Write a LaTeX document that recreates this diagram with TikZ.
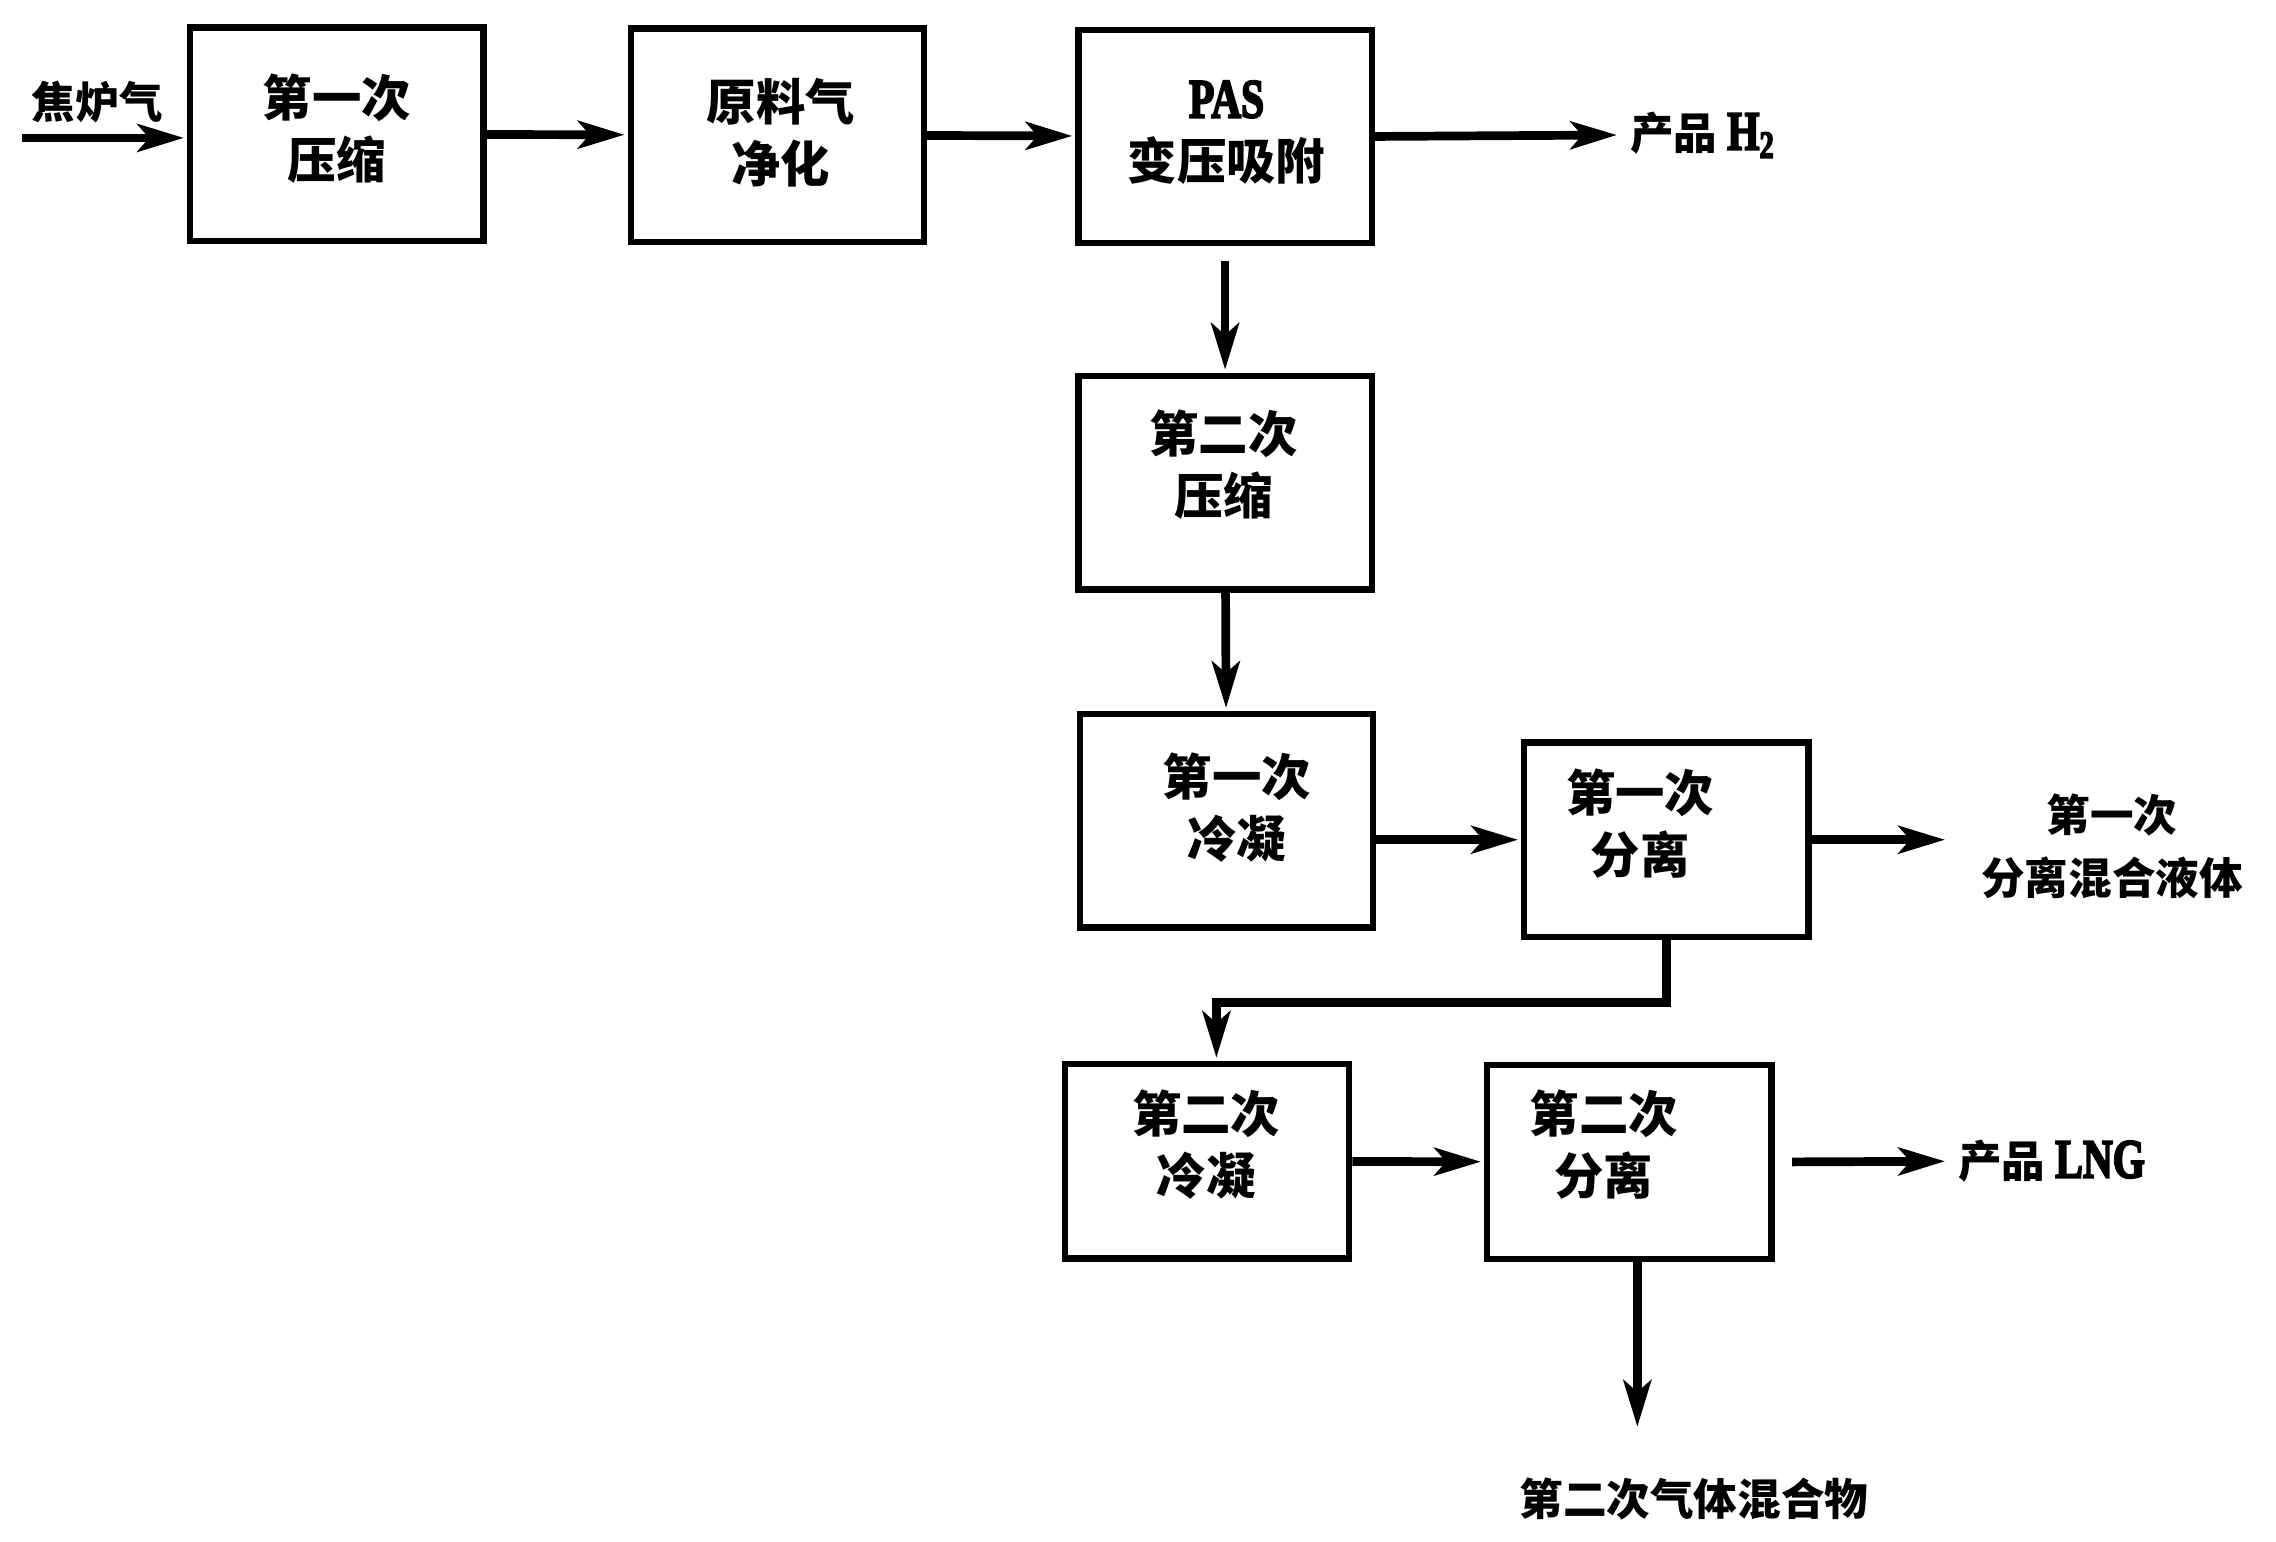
\documentclass[tikz,border=0pt]{standalone}
\usepackage{fontspec}
\setmainfont{Liberation Serif}
\newfontfamily\cjk{Noto Sans CJK SC}
\newfontfamily\latfont{Liberation Serif}[FakeBold=4]
\usetikzlibrary{arrows.meta}

\newcommand{\lat}[1]{{\latfont\bfseries\fontsize{19}{19}\selectfont\scalebox{0.75}[1]{#1}}}

\begin{document}
\begin{tikzpicture}
  [x=0.5pt,y=-0.5pt,
   every node/.style={font={\cjk\bfseries\fontsize{17}{21.5}\selectfont},align=center},
   flow/.style={-{Stealth[length=16pt,width=9.5pt,inset=4pt]},line width=3pt,shorten >=1pt}]

  \tikzstyle{unit} = [draw, line width=2.2pt, minimum width=101pt, minimum height=73.5pt]
  \tikzstyle{small} = [draw, line width=2.2pt, minimum width=98pt, minimum height=67pt]
  \tikzstyle{tag} = [font={\cjk\bfseries\fontsize{15}{21.5}\selectfont}]

  \useasboundingbox (0,0) rectangle (1568,1062);

  % boxes
  \node[unit]  (comp1) at (232,92.5)  {};
  \node[unit]  (purif) at (535.5,93)  {};
  \node[unit]  (pas)   at (844,94)    {};
  \node[unit]  (comp2) at (844,332.5) {};
  \node[unit]  (cond1) at (845,565.5) {};
  \node[small] (sep1)  at (1148,578.5) {};
  \node[small] (cond2) at (831.5,800)  {};
  \node[small] (sep2)  at (1122.5,800.5) {};

  % box texts
  \node at (232,88.5)   {第一次\\压缩};
  \node at (538,91.5)   {原料气\\净化};
  \node at (845,91.5)   {\lat{PAS}\\变压吸附};
  \node at (843,320)    {第二次\\压缩};
  \node at (852,556.5)  {第一次\\冷凝};
  \node at (1130,567.5) {第一次\\分离};
  \node at (831,788.5)  {第二次\\冷凝};
  \node at (1105,788.5) {第二次\\分离};

  % streams in and out
  \node[tag] (coke) at (67,70) {焦炉气};
  \coordinate (feed) at (15,95);
  \node[tag,anchor=west] (h2) at (1116,93) {产品 \lat{H\textsubscript{2}}};
  \coordinate (liqend) at (1342,578.5);
  \node[tag] (liq) at (1455,583) {第一次\\分离混合液体};
  \node[tag,anchor=west] (lng) at (1342,800) {产品 \lat{LNG}};
  \coordinate (gasend) at (1128,985);
  \node[tag] (gas) at (1167,1033) {第二次气体混合物};

  \path[flow]
        (feed)                 edge (feed -| comp1.west)
        (comp1)                edge (purif)
        (purif)                edge (pas)
        (pas.east)             edge (h2.west)
        (pas)                  edge [shorten <=5pt] (comp2)
        (comp2)                edge (cond1)
        (cond1.east |- sep1.west) edge (sep1.west)
        (sep1.east)            edge (liqend)
        (cond2)                edge (sep2)
        (sep2.east)            edge [shorten <=6pt] (lng.west)
        (sep2.south -| gasend) edge (gasend);

  \draw[flow] (sep1.south) -- ++(0,43) -| ([xshift=3.25pt]cond2.north);
\end{tikzpicture}
\end{document}
